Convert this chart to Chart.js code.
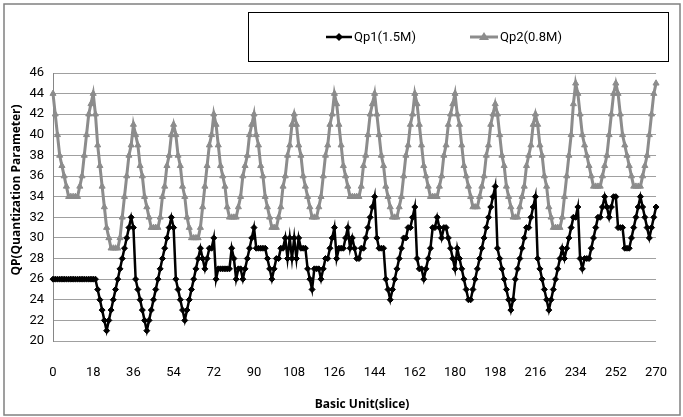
<!DOCTYPE html>
<html>
<head>
<meta charset="utf-8">
<script src="https://cdn.jsdelivr.net/npm/chart.js@4/dist/chart.umd.min.js"></script>
<style>
  html, body { margin: 0; padding: 0; background: #fff; }
  #wrap { width: 683px; height: 417px; position: relative; }
</style>
</head>
<body>
<div id="wrap"><canvas id="chart" width="683" height="417"></canvas></div>
<script>
// QP per basic unit (slice).
const qp1 = [
  26, 26, 26, 26, 26, 26, 26, 26, 26, 26,
  26, 26, 26, 26, 26, 26, 26, 26, 26, 26,
  25, 24, 23, 22, 21, 22, 23, 24, 25, 26,
  27, 28, 29, 30, 31, 32, 31, 26, 25, 24,
  23, 22, 21, 22, 23, 24, 25, 26, 27, 28,
  29, 30, 31, 32, 31, 26, 25, 24, 23, 22,
  23, 24, 25, 26, 27, 28, 29, 28, 27, 28,
  29, 29, 30, 26, 27, 27, 27, 27, 27, 27,
  29, 28, 26, 27, 27, 26, 27, 28, 29, 30,
  31, 29, 29, 29, 29, 29, 28, 27, 26, 27,
  28, 28, 29, 29, 30, 28, 30, 28, 30, 28,
  30, 29, 29, 29, 27, 26, 25, 27, 27, 27,
  26, 27, 28, 28, 29, 30, 31, 28, 29, 29,
  29, 30, 31, 29, 30, 29, 28, 28, 29, 29,
  30, 31, 32, 33, 34, 30, 29, 29, 29, 26,
  25, 24, 25, 26, 27, 28, 29, 30, 30, 31,
  31, 32, 33, 28, 27, 27, 26, 27, 28, 29,
  31, 31, 32, 31, 30, 31, 31, 30, 29, 28,
  27, 29, 28, 27, 26, 25, 24, 24, 25, 26,
  27, 28, 29, 30, 31, 32, 33, 34, 35, 29,
  28, 27, 26, 25, 24, 23, 24, 26, 27, 28,
  29, 30, 31, 31, 32, 33, 34, 28, 27, 26,
  25, 24, 23, 24, 25, 26, 27, 28, 29, 28,
  29, 30, 31, 32, 32, 33, 28, 27, 28, 28,
  28, 29, 30, 31, 32, 32, 33, 34, 33, 32,
  33, 34, 34, 31, 31, 31, 29, 29, 29, 30,
  31, 32, 33, 34, 33, 32, 31, 30, 31, 32,
  33
];

const qp2 = [
  44, 42, 40, 38, 37, 36, 35, 34, 34, 34,
  34, 34, 35, 36, 38, 40, 42, 43, 44, 42,
  39, 37, 35, 33, 31, 30, 29, 29, 29, 29,
  30, 32, 34, 36, 38, 39, 41, 40, 39, 37,
  36, 34, 33, 32, 31, 31, 31, 31, 32, 34,
  35, 37, 38, 40, 41, 40, 38, 37, 35, 34,
  32, 31, 30, 30, 30, 30, 31, 33, 35, 37,
  39, 40, 42, 41, 39, 37, 36, 35, 33, 32,
  32, 32, 32, 33, 34, 36, 37, 38, 40, 41,
  42, 40, 39, 37, 36, 34, 33, 32, 31, 31,
  31, 32, 33, 35, 36, 38, 39, 41, 42, 41,
  39, 38, 36, 35, 34, 33, 32, 32, 32, 33,
  34, 36, 38, 39, 41, 42, 44, 43, 41, 39,
  37, 36, 35, 34, 34, 34, 34, 34, 35, 37,
  38, 40, 42, 43, 44, 42, 40, 38, 37, 35,
  34, 33, 32, 32, 32, 33, 34, 36, 38, 39,
  41, 42, 44, 43, 41, 39, 37, 36, 35, 34,
  34, 34, 34, 35, 36, 38, 39, 41, 42, 43,
  44, 42, 41, 39, 37, 36, 35, 34, 33, 33,
  33, 34, 35, 36, 38, 39, 41, 42, 43, 42,
  40, 38, 37, 35, 34, 33, 32, 32, 32, 33,
  34, 35, 37, 38, 39, 41, 42, 41, 39, 38,
  36, 35, 33, 32, 31, 31, 31, 31, 32, 34,
  36, 38, 40, 43, 45, 44, 42, 40, 39, 38,
  37, 36, 35, 35, 35, 35, 36, 37, 38, 40,
  42, 44, 45, 44, 42, 40, 39, 38, 37, 36,
  35, 35, 35, 35, 36, 37, 38, 40, 42, 44,
  45
];

const seriesNames = ['Qp1(1.5M)', 'Qp2(0.8M)'];
const xTickLabels = [0, 18, 36, 54, 72, 90, 108, 126, 144, 162, 180, 198, 216, 234, 252, 270];
const yTickLabels = [20, 22, 24, 26, 28, 30, 32, 34, 36, 38, 40, 42, 44, 46];
const xTitle = 'Basic Unit(slice)';
const yTitle = 'QP(Quantization Parameter)';

const slices = qp1.map((_, i) => i);

const TICK_FONT = "Roboto, sans-serif";
const TITLE_FONT = "'Open Sans', 'Noto Sans', sans-serif";
const GRAY = '#8c8c8c';

// legend, axis titles and the outer frame are drawn by hand
const decorations = {
  id: 'decorations',
  afterDraw(chart) {
    const ctx = chart.ctx;
    ctx.save();

    ctx.strokeStyle = '#808080';
    ctx.lineWidth = 1.5;
    ctx.strokeRect(4, 4, 676, 411);

    // legend box
    ctx.strokeStyle = '#000';
    ctx.lineWidth = 1;
    ctx.strokeRect(248.5, 12.5, 420, 49);

    const ly = 37;
    ctx.font = `13px ${TICK_FONT}`;
    ctx.fillStyle = '#000';
    ctx.textBaseline = 'middle';
    ctx.textAlign = 'left';

    ctx.strokeStyle = '#000';
    ctx.lineWidth = 2.5;
    ctx.beginPath(); ctx.moveTo(326, ly); ctx.lineTo(352, ly); ctx.stroke();
    ctx.beginPath();
    ctx.moveTo(339, ly - 4); ctx.lineTo(343, ly); ctx.lineTo(339, ly + 4); ctx.lineTo(335, ly);
    ctx.closePath(); ctx.fill();
    ctx.fillText(seriesNames[0], 354, ly + 1);

    ctx.strokeStyle = GRAY;
    ctx.fillStyle = GRAY;
    ctx.lineWidth = 3;
    ctx.beginPath(); ctx.moveTo(470, ly); ctx.lineTo(498, ly); ctx.stroke();
    ctx.beginPath();
    ctx.moveTo(484, ly - 5); ctx.lineTo(489, ly + 3); ctx.lineTo(479, ly + 3);
    ctx.closePath(); ctx.fill();
    ctx.fillStyle = '#000';
    ctx.fillText(seriesNames[1], 500, ly + 1);

    // axis titles
    ctx.font = `bold 12px ${TITLE_FONT}`;
    ctx.textAlign = 'center';
    ctx.fillText(xTitle, 362, 405);

    ctx.translate(17, 190);
    ctx.rotate(-Math.PI / 2);
    ctx.fillText(yTitle, 0, 0);

    ctx.restore();
  }
};

new Chart(document.getElementById('chart'), {
  type: 'line',
  data: {
    labels: slices,
    datasets: [
      {
        label: seriesNames[0],
        data: qp1,
        borderColor: '#000',
        backgroundColor: '#000',
        borderWidth: 2.5,
        pointStyle: 'rectRot',
        pointRadius: 3,
        pointBorderWidth: 1,
        tension: 0,
      },
      {
        label: seriesNames[1],
        data: qp2,
        borderColor: GRAY,
        backgroundColor: GRAY,
        borderWidth: 3,
        pointStyle: 'triangle',
        pointRadius: 3.5,
        pointBorderWidth: 1,
        tension: 0,
      }
    ]
  },
  options: {
    responsive: false,
    animation: false,
    devicePixelRatio: 1,
    layout: { padding: { top: 73, right: 12, left: 0, bottom: 0 } },
    plugins: {
      legend: { display: false },
      tooltip: { enabled: false },
    },
    scales: {
      x: {
        type: 'category',
        offset: false,
        grid: { display: false },
        border: { display: false },
        afterFit(scale) { scale.height = 76; },
        ticks: {
          autoSkip: false,
          maxRotation: 0,
          padding: 16,
          color: '#000',
          font: { family: TICK_FONT, size: 13 },
          callback(value, index) {
            return xTickLabels.includes(index) ? String(slices[index]) : null;
          }
        }
      },
      y: {
        min: yTickLabels[0],
        max: yTickLabels[yTickLabels.length - 1],
        afterFit(scale) { scale.width = 53; },
        afterBuildTicks(scale) { scale.ticks = yTickLabels.map(v => ({ value: v })); },
        grid: { color: '#a0a0a0', lineWidth: 1, drawTicks: false },
        border: { color: '#868686', width: 1 },
        ticks: {
          padding: 9,
          color: '#000',
          font: { family: TICK_FONT, size: 13 },
        }
      }
    }
  },
  plugins: [decorations]
});
</script>
</body>
</html>
